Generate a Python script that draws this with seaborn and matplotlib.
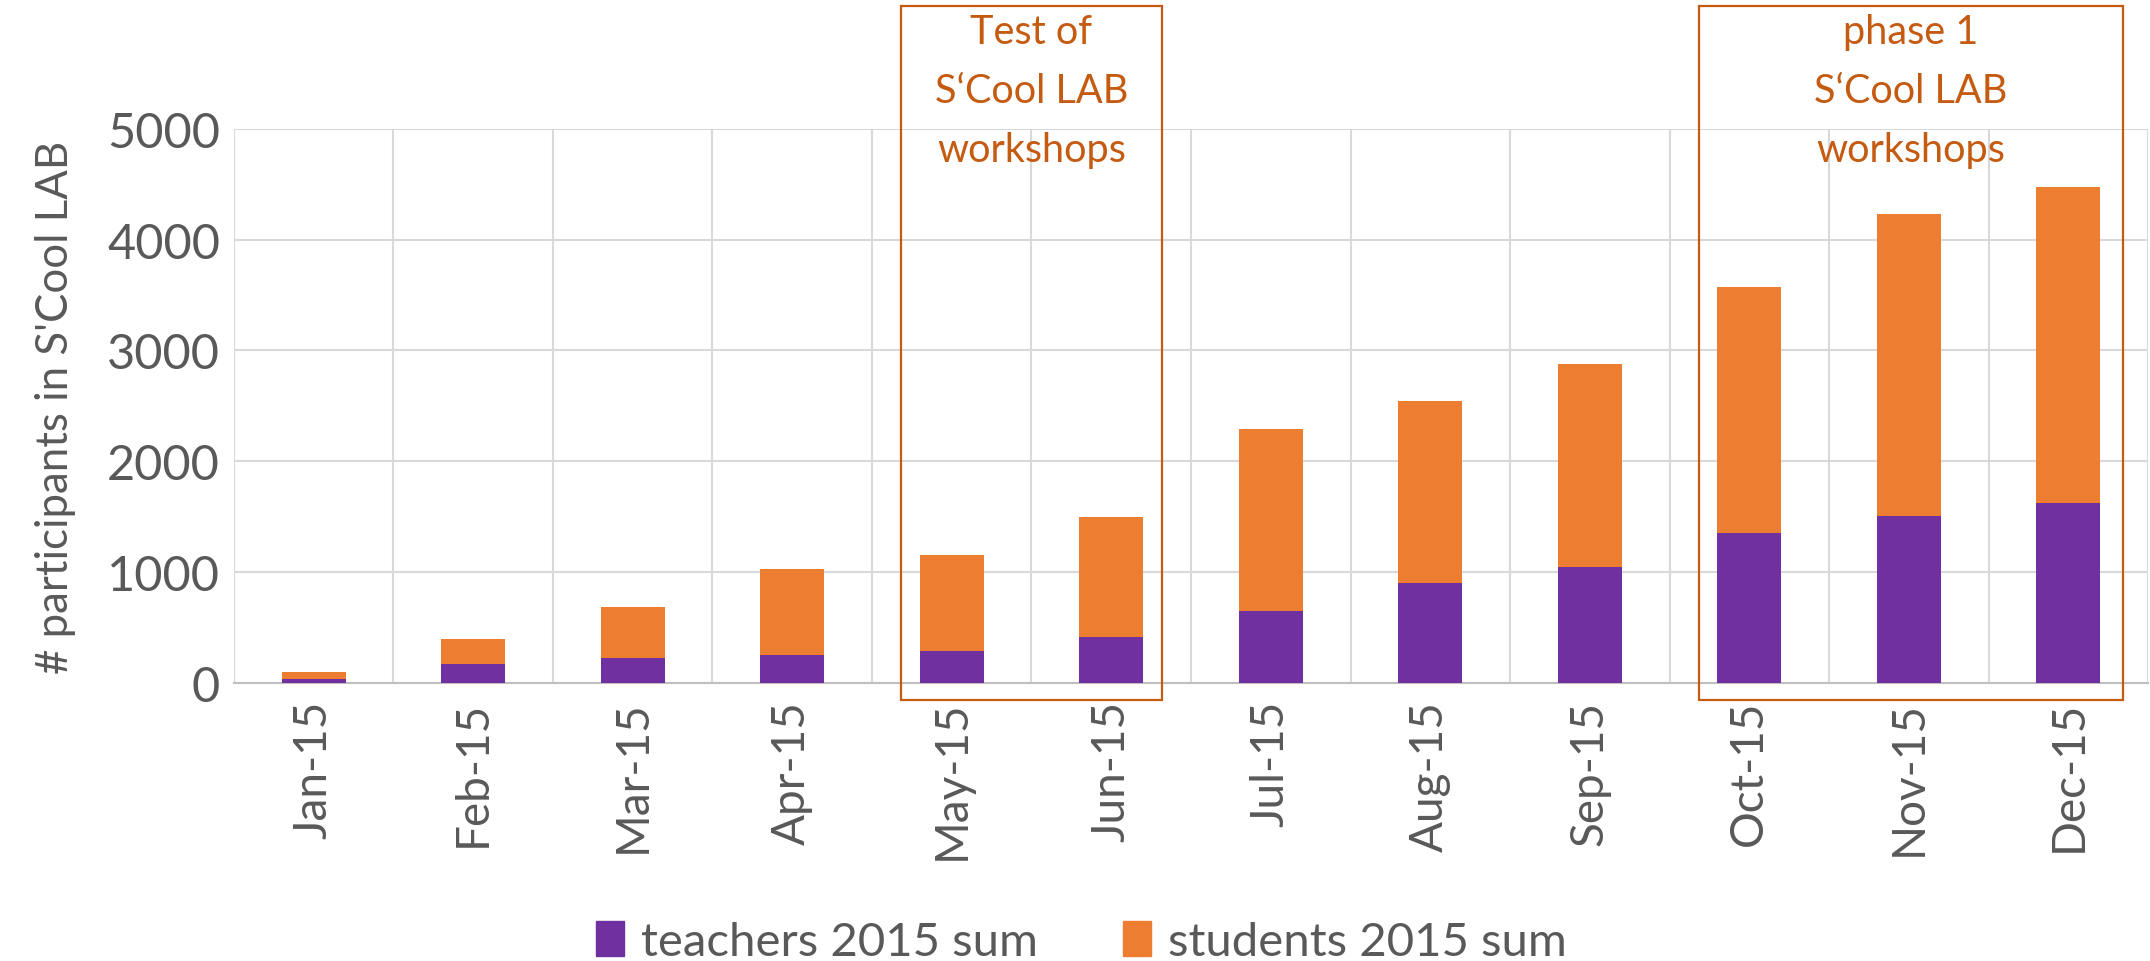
import matplotlib
matplotlib.use("Agg")
import matplotlib.pyplot as plt
import matplotlib.transforms as mtransforms
from matplotlib.patches import Rectangle, Patch
import pandas as pd
import seaborn as sns

months = ["Jan-15", "Feb-15", "Mar-15", "Apr-15", "May-15", "Jun-15",
          "Jul-15", "Aug-15", "Sep-15", "Oct-15", "Nov-15", "Dec-15"]
teachers = [35, 169, 221, 254, 286, 419, 649, 903, 1044, 1355, 1508, 1625]
students = [68, 231, 462, 770, 867, 1077, 1641, 1641, 1835, 2214, 2722, 2851]

PURPLE = "#7030A0"
ORANGE = "#ED7D31"
BOX = "#C55A11"
GREY = "#595959"

sns.set_theme(style="white")
plt.rcParams["font.family"] = ["Lato", "DejaVu Sans"]

df = pd.DataFrame({"month": months, "teachers": teachers, "students": students})
df["total"] = df["teachers"] + df["students"]

fig = plt.figure(figsize=(21.5, 9.62), dpi=100)
ax = fig.add_axes([0.1088, 0.289, 0.8903, 0.5761])

sns.barplot(data=df, x="month", y="total", color=ORANGE, width=0.4,
            saturation=1, linewidth=0, ax=ax, zorder=3)
sns.barplot(data=df, x="month", y="teachers", color=PURPLE, width=0.4,
            saturation=1, linewidth=0, ax=ax, zorder=4)

ax.set_xlim(-0.5, len(months) - 0.5)
ax.set_ylim(0, 5000)
ax.set_yticks(range(0, 5001, 1000))
ax.set_xticks(range(len(months)))
ax.set_xticks([i - 0.5 for i in range(len(months) + 1)], minor=True)
ax.grid(axis="y", color="#D9D9D9", lw=1.5, zorder=0)
ax.grid(axis="x", which="minor", color="#D9D9D9", lw=1.5, zorder=0)
ax.tick_params(axis="x", which="both", length=0, labelsize=33, labelcolor=GREY,
               rotation=90, pad=12)
ax.tick_params(axis="y", length=0, labelsize=35, labelcolor=GREY, pad=10)
for side in ["top", "right", "left"]:
    ax.spines[side].set_visible(False)
ax.spines["bottom"].set_color("#BFBFBF")
ax.spines["bottom"].set_linewidth(1.5)
ax.set_xlabel("")
ax.set_ylabel("# participants in S'Cool LAB", fontsize=31.5, color=GREY, labelpad=22)

# annotation boxes: x in category units, y in figure fraction
trans = mtransforms.blended_transform_factory(ax.transData, fig.transFigure)
boxes = [
    (3.68, 5.32, "Test of\nS\u2018Cool LAB\nworkshops"),
    (8.685, 11.34, "phase 1\nS\u2018Cool LAB\nworkshops"),
]
for x0, x1, label in boxes:
    ax.add_patch(Rectangle((x0, 0.2713), x1 - x0, 0.9927 - 0.2713,
                           transform=trans, fill=False, edgecolor=BOX,
                           lw=1.6, clip_on=False, zorder=5))
    ax.text((x0 + x1) / 2, 0.985, label, transform=trans, ha="center",
            va="top", fontsize=28.5, color=BOX, linespacing=1.72, zorder=6)

handles = [Patch(color=PURPLE, label="teachers 2015 sum"),
           Patch(color=ORANGE, label="students 2015 sum")]
fig.legend(handles=handles, loc="center", bbox_to_anchor=(0.503, 0.02),
           ncol=2, frameon=False, fontsize=34, labelcolor=GREY,
           handlelength=0.6, handleheight=0.75, handletextpad=0.35,
           columnspacing=1.8)

fig.savefig("out.png", dpi=100)
